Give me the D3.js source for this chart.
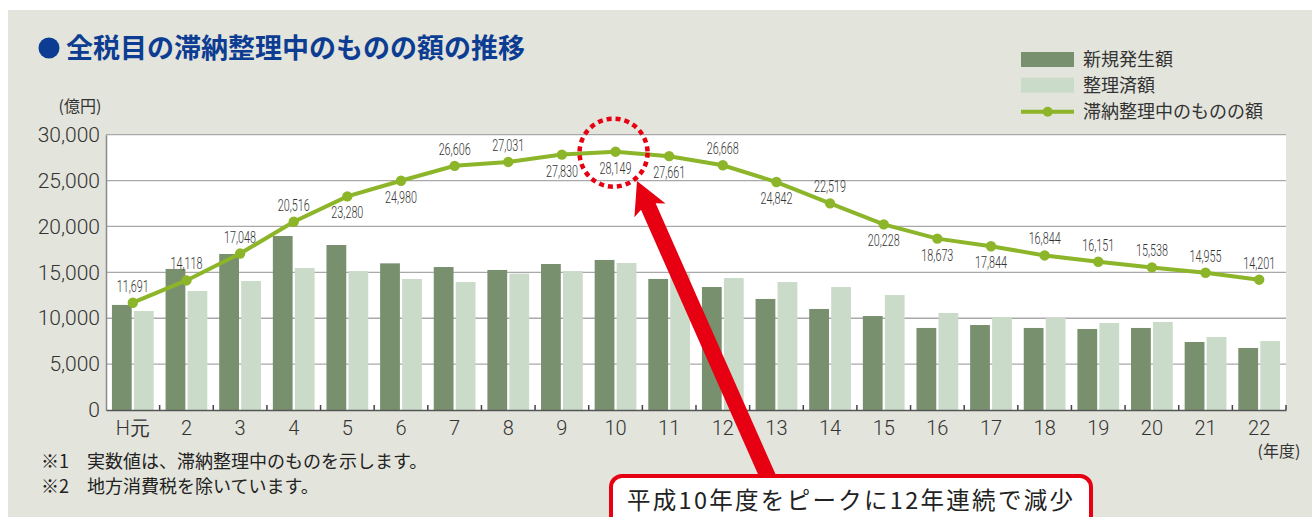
<!DOCTYPE html>
<html>
<head>
<meta charset="utf-8">
<script src="https://cdn.jsdelivr.net/npm/d3@7/dist/d3.min.js"></script>
<style>
  body { margin: 0; background: #fff; }
  svg { display: block; }
  text { font-family: "Noto Sans CJK JP", "Liberation Sans", sans-serif; }
  .num { font-family: Roboto, "Liberation Sans", sans-serif; font-weight: 300; }
</style>
</head>
<body>
<div id="chart"></div>
<script>
// 年度
const years = ["H元", "2", "3", "4", "5", "6", "7", "8", "9", "10", "11",
  "12", "13", "14", "15", "16", "17", "18", "19", "20", "21", "22"];
// 新規発生額 (億円)
const newAmounts = [11450, 15370, 17000, 18960, 17980, 15980, 15580, 15260, 15910, 16350, 14280,
  13400, 12100, 11010, 10240, 8940, 9260, 8940, 8830, 8940, 7410, 6760];
// 整理済額
const settledAmounts = [10790, 12970, 14060, 15470, 15150, 14280, 13950, 14860, 15150, 16020, 14860,
  14380, 13950, 13400, 12530, 10570, 10130, 10030, 9480, 9590, 7960, 7520];
// 滞納整理中のものの額
const balance = [11691, 14118, 17048, 20516, 23280, 24980, 26606, 27031, 27830, 28149, 27661,
  26668, 24842, 22519, 20228, 18673, 17844, 16844, 16151, 15538, 14955, 14201];
// where each value label sits relative to its point
const labelSide = ["up", "up", "up", "up", "down", "down", "up", "up", "down", "down", "down",
  "up", "down", "up", "down", "down", "down", "up", "up", "up", "up", "up"];
const yTicks = [0, 5000, 10000, 15000, 20000, 25000, 30000];
const seriesNames = ["新規発生額", "整理済額", "滞納整理中のものの額"];

const W = 1312, H = 517;
const colDark = "#79906f", colLight = "#cbdbc9", colLine = "#8cb52a";
const plotL = 106, plotR = 1286, plotT = 134.7, plotB = 410;

const svg = d3.select("#chart").append("svg")
  .attr("width", W).attr("height", H);

// panel background
svg.append("rect").attr("x", 8).attr("y", 10).attr("width", W - 8).attr("height", H - 10)
  .attr("fill", "#e3e4dc");

// title
svg.append("circle").attr("cx", 49).attr("cy", 48).attr("r", 10.5).attr("fill", "#0c3d92");
svg.append("text").attr("x", 66).attr("y", 58)
  .attr("font-size", 27).attr("font-weight", "bold").attr("fill", "#0c3d92")
  .text("全税目の滞納整理中のものの額の推移");

const x = d3.scaleBand().domain(years).range([plotL, plotR]);
const xs = d3.scaleBand().domain(["new", "settled"]).range([0, x.bandwidth()])
  .paddingInner(0.1).paddingOuter(0.27);
const y = d3.scaleLinear().domain([0, 30000]).range([plotB, plotT]);

// plot area
svg.append("rect").attr("x", plotL).attr("y", plotT).attr("width", plotR - plotL)
  .attr("height", plotB - plotT).attr("fill", "#fff");

// grid
svg.append("g").selectAll("line").data(yTicks.filter(d => d > 0)).join("line")
  .attr("x1", plotL).attr("x2", plotR)
  .attr("y1", d => y(d)).attr("y2", d => y(d))
  .attr("stroke", "#a9a9a9").attr("stroke-width", 1.3);

// y axis
const yAxis = svg.append("g").attr("transform", `translate(${plotL},0)`)
  .call(d3.axisLeft(y).tickValues(yTicks).tickSize(0).tickPadding(6).tickFormat(d3.format(",")));
yAxis.select(".domain").attr("stroke", "#8a8a8a").attr("stroke-width", 1.5);
yAxis.selectAll("text").attr("class", "num").attr("font-family", null)
  .attr("font-size", 21).attr("fill", "#333");

// bars
const groups = svg.append("g").selectAll("g").data(years).join("g")
  .attr("transform", d => `translate(${x(d)},0)`);
groups.append("rect")
  .attr("x", xs("new")).attr("width", xs.bandwidth())
  .attr("y", (d, i) => y(newAmounts[i])).attr("height", (d, i) => plotB - y(newAmounts[i]))
  .attr("fill", colDark);
groups.append("rect")
  .attr("x", xs("settled")).attr("width", xs.bandwidth())
  .attr("y", (d, i) => y(settledAmounts[i])).attr("height", (d, i) => plotB - y(settledAmounts[i]))
  .attr("fill", colLight);

// x axis
const xAxis = svg.append("g").attr("transform", `translate(0,${plotB})`)
  .call(d3.axisBottom(x).tickSize(0).tickPadding(11));
xAxis.select(".domain").attr("stroke", "#555").attr("stroke-width", 1.5);
xAxis.selectAll("text").attr("class", "num").attr("font-family", null)
  .attr("font-size", 20).attr("fill", "#333");
// little dividers between years
svg.append("g").selectAll("line").data(years.slice(1).concat(["end"])).join("line")
  .attr("x1", d => d === "end" ? plotR : x(d)).attr("x2", d => d === "end" ? plotR : x(d))
  .attr("y1", plotB - 5).attr("y2", plotB)
  .attr("stroke", "#444").attr("stroke-width", 1.5);

svg.append("text").attr("x", 80).attr("y", 112).attr("text-anchor", "middle")
  .attr("font-size", 16).attr("fill", "#333").text("(億円)");
svg.append("text").attr("x", 1279).attr("y", 457).attr("text-anchor", "middle")
  .attr("font-size", 16).attr("fill", "#333").text("(年度)");

// balance line
const cx = d => x(d) + x.bandwidth() / 2;
svg.append("path").datum(balance)
  .attr("fill", "none").attr("stroke", colLine).attr("stroke-width", 4)
  .attr("d", d3.line().x((d, i) => cx(years[i])).y(d => y(d)));
svg.append("g").selectAll("circle").data(balance).join("circle")
  .attr("cx", (d, i) => cx(years[i])).attr("cy", d => y(d)).attr("r", 5.2)
  .attr("fill", colLine);
svg.append("g").selectAll("text").data(balance).join("text")
  .attr("class", "num")
  .attr("x", (d, i) => cx(years[i]) - 16)
  .attr("y", (d, i) => y(d) + (labelSide[i] === "up" ? -11 : 22))
  .attr("font-size", 16).attr("fill", "#333")
  .attr("textLength", 32).attr("lengthAdjust", "spacingAndGlyphs")
  .text(d => d3.format(",")(d));

// legend
const legend = svg.append("g").attr("transform", "translate(1021,52)");
legend.append("rect").attr("width", 53).attr("height", 15).attr("fill", colDark);
legend.append("rect").attr("y", 25.7).attr("width", 53).attr("height", 15).attr("fill", colLight);
legend.append("line").attr("x1", 0).attr("x2", 53).attr("y1", 59.7).attr("y2", 59.7)
  .attr("stroke", colLine).attr("stroke-width", 4);
legend.append("circle").attr("cx", 26.7).attr("cy", 59.7).attr("r", 5).attr("fill", colLine);
legend.selectAll("text.lg").data(seriesNames).join("text").attr("class", "lg")
  .attr("x", 62).attr("y", (d, i) => 14 + i * 26)
  .attr("font-size", 18).attr("fill", "#333").text(d => d);

// notes
svg.append("text").attr("x", 41).attr("y", 468).attr("font-size", 18).attr("fill", "#222")
  .text("※1　実数値は、滞納整理中のものを示します。");
svg.append("text").attr("x", 41).attr("y", 493).attr("font-size", 18).attr("fill", "#222")
  .text("※2　地方消費税を除いています。");

// peak annotation
const peakX = cx("10"), peakY = y(28149);
svg.append("ellipse").attr("cx", peakX - 2).attr("cy", peakY + 1).attr("rx", 34).attr("ry", 34)
  .attr("fill", "none").attr("stroke", "#e60012").attr("stroke-width", 4.5)
  .attr("stroke-dasharray", "5,4");
const tip = [637, 181], tail = [772, 486];
const ang = Math.atan2(tail[1] - tip[1], tail[0] - tip[0]) * 180 / Math.PI;
const len = Math.hypot(tail[0] - tip[0], tail[1] - tip[1]);
const arrow = svg.append("g").attr("transform", `translate(${tip[0]},${tip[1]}) rotate(${ang})`);
arrow.append("path").attr("fill", "#e60012")
  .attr("d", `M0,0 L32,-17 L28,-8 L${len},-8 L${len},8 L28,8 L32,17 Z`);
svg.append("rect").attr("x", 611).attr("y", 476).attr("width", 480).attr("height", 60)
  .attr("rx", 11).attr("fill", "#fff").attr("stroke", "#e60012").attr("stroke-width", 4);
svg.append("text").attr("x", 627).attr("y", 509)
  .attr("font-size", 23.5).attr("fill", "#222")
  .attr("textLength", 446).attr("lengthAdjust", "spacing")
  .text("平成10年度をピークに12年連続で減少");
</script>
</body>
</html>
